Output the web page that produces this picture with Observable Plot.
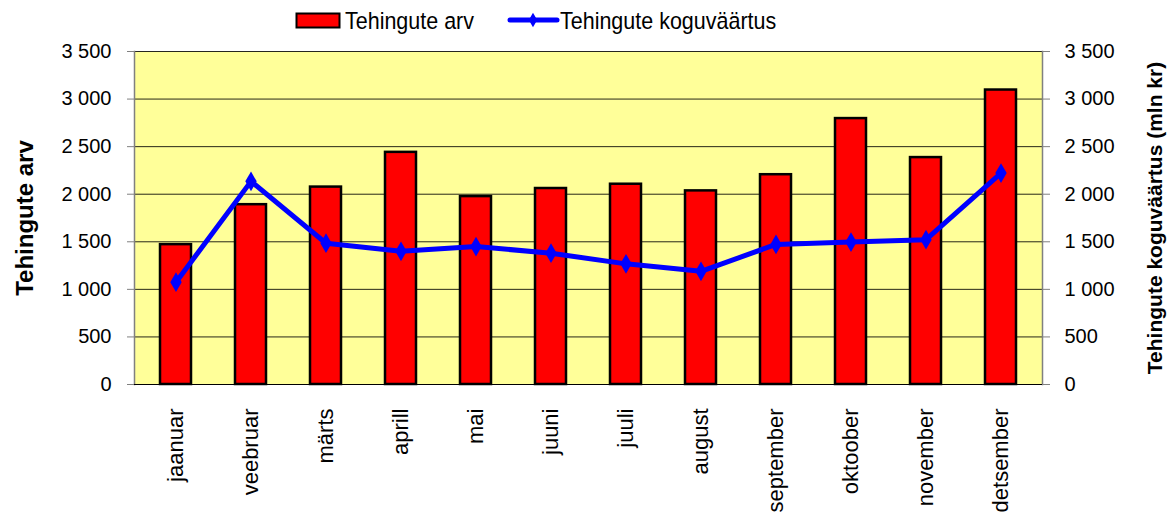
<!DOCTYPE html>
<html>
<head>
<meta charset="utf-8">
<script src="https://cdn.jsdelivr.net/npm/d3@7"></script>
<script src="https://cdn.jsdelivr.net/npm/@observablehq/plot@0.6"></script>
<style>
  html, body { margin: 0; padding: 0; background: #fff; }
  body { width: 1170px; height: 525px; overflow: hidden; font-family: "Liberation Sans", Arial, sans-serif; }
  #legend { height: 40px; display: block; }
</style>
</head>
<body>
<svg id="legend" width="1170" height="40"></svg>
<div id="chart"></div>
<script>
const months = ["jaanuar","veebruar","märts","aprill","mai","juuni","juuli","august","september","oktoober","november","detsember"];
const tehinguteArv = [1470, 1890, 2075, 2440, 1975, 2060, 2105, 2035, 2205, 2795, 2385, 3095];
const koguvaartus = [1075, 2135, 1485, 1400, 1450, 1380, 1268, 1190, 1472, 1497, 1522, 2222];
const yTicks = [0, 500, 1000, 1500, 2000, 2500, 3000, 3500];
const seriesNames = ["Tehingute arv", "Tehingute koguväärtus"];
const yLabelLeft = "Tehingute arv";
const yLabelRight = "Tehingute koguväärtus (mln kr)";

const data = months.map((m, i) => ({month: m, arv: tehinguteArv[i], vaartus: koguvaartus[i]}));
const fmt = d => d3.format(",")(d).replace(/,/g, "\u00a0");
const font = "'Liberation Sans', Arial, sans-serif";

// Legend
const lg = d3.select("#legend");
lg.append("rect").attr("x", 296.5).attr("y", 13.5).attr("width", 43).attr("height", 14)
  .attr("fill", "#ff0000").attr("stroke", "#000").attr("stroke-width", 2);
lg.append("text").attr("x", 345).attr("y", 29).attr("font-size", 21.5).attr("font-family", font)
  .attr("transform", "translate(0,29) scale(1,1.12) translate(0,-29)")
  .text(seriesNames[0]);
lg.append("line").attr("x1", 510).attr("x2", 557).attr("y1", 20).attr("y2", 20)
  .attr("stroke", "#0000ff").attr("stroke-width", 5).attr("stroke-linecap", "round");
lg.append("path").attr("d", d3.symbol(d3.symbolDiamond, 60)()).attr("transform", "translate(533,20)")
  .attr("fill", "#0000ff");
lg.append("text").attr("x", 560).attr("y", 29).attr("font-size", 21.5).attr("font-family", font)
  .attr("transform", "translate(0,29) scale(1,1.12) translate(0,-29)")
  .text(seriesNames[1]);

const chart = Plot.plot({
  width: 1170,
  height: 485,
  marginTop: 11,
  marginBottom: 141,
  marginLeft: 134,
  marginRight: 128,
  style: {fontFamily: font, background: "#fff", color: "#000"},
  x: {domain: months, paddingInner: 0.59, paddingOuter: 0.295, label: null},
  y: {domain: [0, 3500], label: null},
  marks: [
    Plot.frame({fill: "#ffff99", stroke: null}),
    Plot.ruleY(yTicks, {stroke: "#000", strokeWidth: 1, strokeOpacity: 0.85}),
    Plot.frame({anchor: "left", stroke: "#808080", strokeWidth: 1.5}),
    Plot.frame({anchor: "right", stroke: "#808080", strokeWidth: 1.5}),
    Plot.axisY({ticks: yTicks, tickFormat: fmt, anchor: "left", tickSize: 7, tickPadding: 16, fontSize: 20, stroke: "#808080", label: null}),
    Plot.axisY({ticks: yTicks, tickFormat: fmt, anchor: "right", tickSize: 7, tickPadding: 15, fontSize: 20, stroke: "#808080", label: null}),
    Plot.axisX({tickSize: 0, tickRotate: -90, tickPadding: 24, fontSize: 22, label: null}),
    Plot.barY(data, {x: "month", y: "arv", fill: "#ff0000", stroke: "#000", strokeWidth: 2.5}),
    Plot.line(data, {x: "month", y: "vaartus", stroke: "#0000ff", strokeWidth: 5}),
    Plot.dot(data, {x: "month", y: "vaartus", symbol: "diamond", r: 6, fill: "#0000ff"}),
    Plot.ruleY([0], {stroke: "#000", strokeWidth: 1.2}),
    Plot.text([yLabelLeft], {frameAnchor: "left", dx: -109, rotate: -90, textAnchor: "middle", fontSize: 24, fontWeight: "bold"}),
    Plot.text([yLabelRight], {frameAnchor: "right", dx: 113, rotate: -90, textAnchor: "middle", fontSize: 21, fontWeight: "bold"})
  ]
});
document.getElementById("chart").appendChild(chart);
</script>
</body>
</html>
